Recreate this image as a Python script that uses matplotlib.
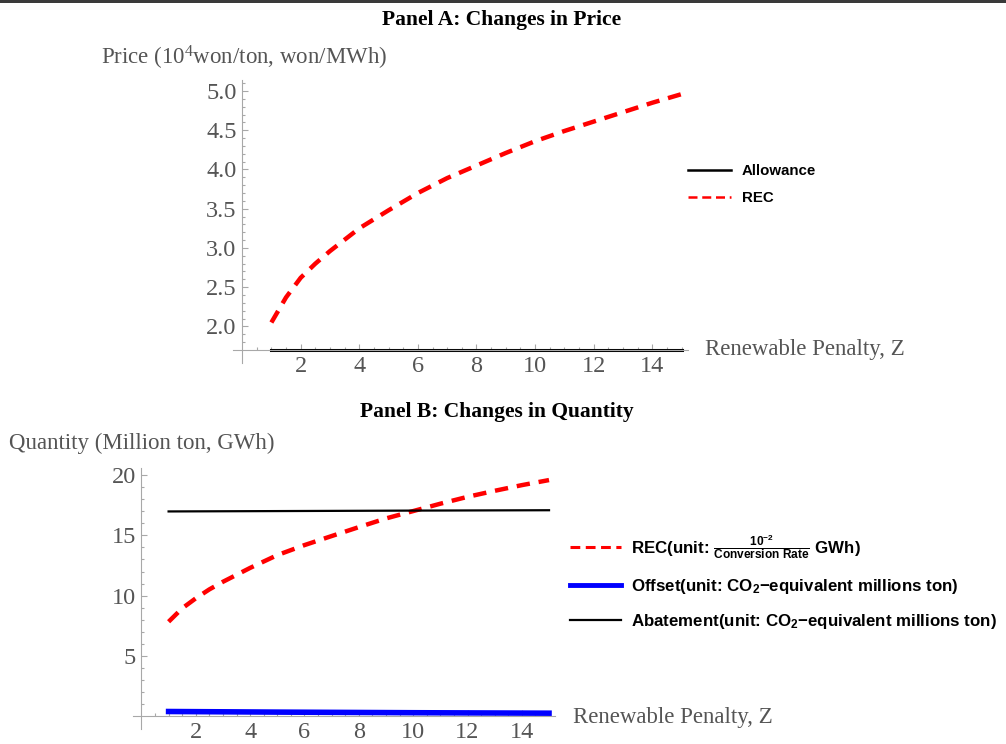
import matplotlib
matplotlib.use('Agg')
import matplotlib.pyplot as plt
import numpy as np
from matplotlib.ticker import FixedLocator
from matplotlib.lines import Line2D

plt.rcParams['font.family'] = ['Liberation Serif', 'DejaVu Serif']

# renewable penalty grid
z = [1, 1.5, 2, 2.5, 3, 4, 5, 6, 7, 8, 9, 10, 11, 12, 13, 14, 15]

# Panel A: prices
rec_price = [2.05, 2.37, 2.62, 2.80, 2.96, 3.25, 3.48, 3.70, 3.89, 4.05, 4.21,
             4.36, 4.49, 4.61, 4.73, 4.85, 4.96]
allowance_z = [1, 15]
allowance_price = [1.70, 1.70]

# Panel B: quantities
rec_qty = [7.84, 8.95, 9.78, 10.52, 11.15, 12.30, 13.36, 14.19, 14.94, 15.68,
           16.40, 17.01, 17.62, 18.19, 18.69, 19.16, 19.58]
offset_z = [1, 5, 10, 15]
offset_qty = [0.40, 0.35, 0.30, 0.26]
abate_z = [1, 5, 10, 15]
abate_qty = [16.98, 17.01, 17.05, 17.08]

xticks = [2, 4, 6, 8, 10, 12, 14]
price_ticks = [2.0, 2.5, 3.0, 3.5, 4.0, 4.5, 5.0]
qty_ticks = [5, 10, 15, 20]

W, H = 1006, 744
fig = plt.figure(figsize=(W / 100, H / 100), dpi=100)

axis_gray = '#a8a8a8'
label_gray = '#555555'


def legend_font(size):
    return {'family': 'Liberation Sans', 'weight': 'bold', 'size': size}


def style_axes(ax, y0):
    for s in ['top', 'right']:
        ax.spines[s].set_visible(False)
    ax.spines['left'].set_position(('data', 0))
    ax.spines['bottom'].set_position(('data', y0))
    for s in ['left', 'bottom']:
        ax.spines[s].set_color(axis_gray)
        ax.spines[s].set_linewidth(0.8)
    ax.tick_params(which='both', direction='in', colors=axis_gray,
                   labelcolor=label_gray, labelsize=17.5, width=0.8, pad=4)
    ax.tick_params(which='major', length=4)
    ax.tick_params(which='minor', length=2)
    ax.set_facecolor('none')


# ---- Panel A ----
axA = fig.add_axes([233 / W, 1 - 363 / H, 455 / W, 283 / H])
axA.plot(allowance_z, allowance_price, color='black', lw=2.2)
axA.plot(z, rec_price, color='red', lw=3.2, dashes=(3, 2))
axA.set_xlim(-0.31, 15.22)
axA.set_ylim(1.534, 5.14)
style_axes(axA, 1.70)
axA.set_xticks(xticks)
axA.set_yticks(price_ticks)
axA.set_yticklabels([f'{v:.1f}' for v in price_ticks])
axA.xaxis.set_minor_locator(FixedLocator(np.arange(0.5, 15.1, 0.5)))
axA.yaxis.set_minor_locator(FixedLocator(np.arange(1.8, 5.15, 0.1)))

handles_a = [Line2D([], [], color='black', lw=1.8),
             Line2D([], [], color='red', lw=1.8, dashes=(3.6, 1.9))]
axA.legend(handles_a, ['Allowance', 'REC'], loc='upper left',
           bbox_to_anchor=(688 / W, 1 - 164 / H), bbox_transform=fig.transFigure,
           frameon=False, prop=legend_font(10.8), borderpad=0, borderaxespad=0,
           handlelength=2.85, handletextpad=0.72, labelspacing=0.88)

fig.text(502 / W, 1 - 20 / H, 'Panel A: Changes in Price', ha='center', va='center',
         fontsize=15.5, fontweight='bold')
fig.text(244 / W, 1 - 58 / H, r'Price ($\mathregular{10^4}$won/ton, won/MWh)',
         ha='center', va='center', fontsize=16.5, color=label_gray)
fig.text(705 / W, 1 - 350 / H, 'Renewable Penalty, Z', ha='left', va='center',
         fontsize=16.5, color=label_gray)

# ---- Panel B ----
axB = fig.add_axes([133 / W, 1 - 729 / H, 422 / W, 261 / H])
axB.plot(z, rec_qty, color='red', lw=3.2, dashes=(3, 2))
axB.plot(offset_z, offset_qty, color='#0000ff', lw=4)
axB.plot(abate_z, abate_qty, color='black', lw=1.6)
axB.set_xlim(-0.31, 15.22)
axB.set_ylim(-1.05, 20.58)
style_axes(axB, 0)
axB.set_xticks(xticks)
axB.set_yticks(qty_ticks)
axB.xaxis.set_minor_locator(FixedLocator(np.arange(0.5, 15.1, 0.5)))
axB.yaxis.set_minor_locator(FixedLocator(np.arange(1, 20.6, 1)))

labels_b = [r'REC(unit: $\mathregular{\frac{10^{-2}}{Conversion\ Rate}}$ GWh)',
            r'Offset(unit: $\mathregular{CO_2}$−equivalent millions ton)',
            r'Abatement(unit: $\mathregular{CO_2}$−equivalent millions ton)']
handles_b = [Line2D([], [], color='red', lw=2.2, dashes=(3.2, 1.8)),
             Line2D([], [], color='#0000ff', lw=3.5),
             Line2D([], [], color='black', lw=1.6)]
axB.legend(handles_b, labels_b, loc='upper left',
           bbox_to_anchor=(570 / W, 1 - 533 / H), bbox_transform=fig.transFigure,
           frameon=False, prop=legend_font(12.2), borderpad=0, borderaxespad=0,
           handlelength=3.0, handletextpad=0.6, labelspacing=0.93)

fig.text(497 / W, 1 - 412 / H, 'Panel B: Changes in Quantity', ha='center',
         va='center', fontsize=15.5, fontweight='bold')
fig.text(141.5 / W, 1 - 443 / H, 'Quantity (Million ton, GWh)', ha='center',
         va='center', fontsize=16.5, color=label_gray)
fig.text(573 / W, 1 - 718 / H, 'Renewable Penalty, Z', ha='left', va='center',
         fontsize=16.5, color=label_gray)

# dark rule along the top edge
fig.add_artist(plt.Rectangle((0, 1 - 3 / H), 1, 3 / H, transform=fig.transFigure,
                             color='#3a3a3a', lw=0))

fig.savefig('out.png', dpi=100)
